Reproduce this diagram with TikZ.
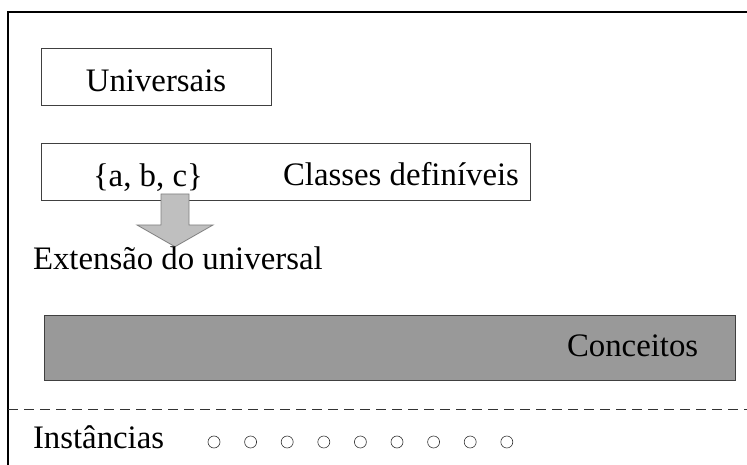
\documentclass[tikz,border=0pt]{standalone}
\usepackage{fontspec}
\setmainfont{Liberation Serif}
\begin{document}
\begin{tikzpicture}[x=1bp,y=-1bp,
  every node/.style={inner sep=0pt, outer sep=0pt},
  label text/.style={font=\fontsize{32.8bp}{39bp}\selectfont},
  panel/.style={draw=black!75, line width=1bp, fill=white, anchor=north west},
  concept/.style={panel, fill=black!40},
  blockarrow/.style={draw=black!50, fill=black!25, line width=0.8bp},
  instance/.style={circle, draw=black!80, line width=0.6bp, minimum size=12bp},
  divider/.style={black!80, line width=1bp, dash pattern=on 10bp off 6bp}]
\useasboundingbox (0,0) rectangle (747,465);

% outer frame (left and top edges only)
\draw[line width=1.5bp] (8,465) -- (8,12) -- (747,12);

% universals
\node[panel, minimum width=230bp, minimum height=57bp] (univ) at (41,49) {};
\node[label text, anchor=base] (univtext) at (156,92) {Universais};

% definable classes
\node[panel, minimum width=489bp, minimum height=56.7bp] (classes) at (41,144) {};
\node[label text, anchor=base west] (set) at (93,187) {\{a, b, c\}};
\node[label text, anchor=base west] (classtext) at (283,186) {Classes definíveis};

% extension arrow
\coordinate (arrowtop) at (175,194);
\draw[blockarrow] (arrowtop) ++(-14,0) -- ++(28,0) -- ++(0,31) -- ++(24,0)
  -- (175,246.7) -- (137,225) -- (161,225) -- cycle;
\node[label text, anchor=base west] (ext) at (33,270) {Extensão do universal};

% concepts
\node[concept, minimum width=691bp, minimum height=64bp] (concepts) at (44,316) {};
\node[label text, anchor=base west] (concepttext) at (567,357) {Conceitos};

% instances
\draw[divider] (8,409) -- (747,409);
\node[label text, anchor=base west] (insttext) at (33,448) {Instâncias};
\foreach \i in {0,...,8}
  \node[instance] (inst\i) at ({214+36.6*\i},442) {};
\end{tikzpicture}
\end{document}
